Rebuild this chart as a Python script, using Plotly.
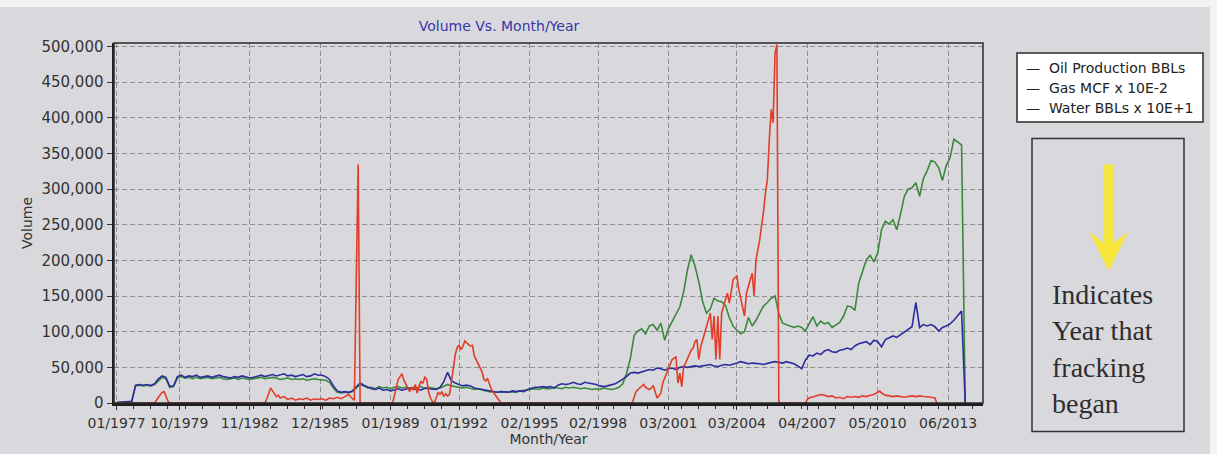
import pandas as pd
import plotly.graph_objects as go

# ---------------- data ----------------
# Water (BBLs x 10E+1) and Gas (MCF x 10E-2): one reading every two months,
# Jan 1977 ... Mar 2014, values in thousands.
water_thousands = [
    0.5, 1, 1.5, 2, 2.5, 25,          # 1977
    26, 25, 26, 24.5, 27, 34,         # 1978
    38, 36, 23, 24, 37, 39,           # 1979
    36, 38, 37, 39, 36, 37,           # 1980
    38, 36, 37, 39, 37, 36,           # 1981
    35, 37, 36, 38, 37, 35,           # 1982
    36, 38, 39, 37, 38, 40,           # 1983
    38, 39, 41, 38, 39, 37,           # 1984
    38, 40, 37, 38, 41, 39,           # 1985
    39, 37, 33, 24, 17, 15,           # 1986
    16, 15, 17, 22, 28, 25,           # 1987
    22, 20, 19, 21, 18, 19,           # 1988
    17, 19, 20, 18, 19, 21,           # 1989
    19, 20, 18, 21, 20, 19,           # 1990
    19, 22, 30, 43, 31, 28,           # 1991
    26, 24, 25, 24, 21, 20,           # 1992
    19, 18, 17, 16, 15, 16,           # 1993
    16, 15, 17, 16, 17, 16,           # 1994
    19, 21, 22, 22, 23, 22,           # 1995
    23, 21, 25, 27, 26, 27,           # 1996
    29, 27, 26, 29, 28, 27,           # 1997
    26, 24, 23, 24, 25, 27,           # 1998
    30, 33, 37, 42, 43, 42,           # 1999
    44, 45, 47, 46, 49, 48,           # 2000
    46, 48, 49, 47, 50, 51,           # 2001
    50, 51, 52, 51, 52, 53,           # 2002
    54, 52, 51, 53, 54, 53,           # 2003
    54, 56, 58, 57, 55, 56,           # 2004
    56, 55, 54, 56, 57, 58,           # 2005
    57, 56, 58, 57, 55, 52,           # 2006
    48, 60, 67, 66, 70, 68,           # 2007
    73, 75, 72, 71, 74, 75,           # 2008
    77, 75, 80, 83, 84, 86,           # 2009
    82, 88, 86, 79, 89, 91,           # 2010
    94, 92, 96, 99, 103, 107,         # 2011
    141, 106, 110, 108, 110, 107,     # 2012
    101, 106, 108, 111, 116, 123,     # 2013
    129, 0,                           # 2014
]

gas_thousands = [
    0.5, 1, 1, 1.5, 2, 24,            # 1977
    25, 24, 25, 24, 26, 31,           # 1978
    36, 34, 22, 23, 35, 37,           # 1979
    35, 36, 34, 36, 34, 35,           # 1980
    36, 34, 35, 36, 34, 33,           # 1981
    34, 35, 33, 35, 34, 33,           # 1982
    34, 35, 36, 34, 35, 36,           # 1983
    35, 33, 34, 35, 33, 34,           # 1984
    33, 34, 32, 33, 34, 33,           # 1985
    33, 32, 29, 21, 15, 14,           # 1986
    15, 14, 16, 21, 26, 24,           # 1987
    21, 22, 20, 23, 21, 22,           # 1988
    20, 22, 23, 21, 22, 20,           # 1989
    22, 21, 23, 20, 22, 21,           # 1990
    20, 21, 23, 26, 24, 23,           # 1991
    22, 21, 22, 20, 19, 20,           # 1992
    18, 17, 16, 15, 15, 16,           # 1993
    16, 15, 16, 15, 17, 18,           # 1994
    18, 19, 20, 19, 21, 20,           # 1995
    20, 22, 21, 20, 22, 21,           # 1996
    22, 21, 20, 21, 20, 19,           # 1997
    20, 19, 21, 20, 19, 20,           # 1998
    22, 27, 41, 62, 95, 101,          # 1999
    104, 97, 108, 110, 102, 112,      # 2000
    88, 104, 115, 125, 135, 156,      # 2001
    187, 208, 192, 170, 142, 126,     # 2002
    132, 147, 143, 142, 137, 120,     # 2003
    108, 102, 97, 100, 120, 108,      # 2004
    116, 126, 136, 141, 147, 150,     # 2005
    125, 112, 110, 107, 106, 108,     # 2006
    106, 101, 112, 121, 108, 115,     # 2007
    111, 113, 106, 110, 113, 122,     # 2008
    136, 135, 130, 168, 185, 201,     # 2009
    207, 198, 210, 243, 255, 251,     # 2010
    257, 243, 265, 290, 300, 302,     # 2011
    309, 290, 315, 326, 340, 338,     # 2012
    330, 312, 333, 344, 370, 366,     # 2013
    362, 0,                           # 2014
]

# Oil production (BBLs): irregular readings, values in thousands
oil_months = [
    "1977-01", "1978-09", "1978-11", "1978-12", "1979-01", "1979-02", "1979-03", "1979-04", "1979-05",
    "1983-07", "1983-08", "1983-09", "1983-10", "1983-11", "1983-12",
    "1984-01", "1984-02", "1984-03", "1984-05", "1984-07", "1984-09", "1984-11",
    "1985-01", "1985-03", "1985-05", "1985-07", "1985-09", "1985-11",
    "1986-01", "1986-03", "1986-05", "1986-07", "1986-09", "1986-11",
    "1987-01", "1987-03", "1987-05", "1987-06", "1987-07", "1987-08", "1987-09",
    "1989-02", "1989-03", "1989-04", "1989-05", "1989-06", "1989-07", "1989-08",
    "1989-09", "1989-10", "1989-11", "1989-12",
    "1990-01", "1990-02", "1990-03", "1990-04", "1990-05", "1990-06", "1990-07",
    "1990-08", "1990-09", "1990-10", "1990-11", "1990-12",
    "1991-01", "1991-02", "1991-03", "1991-04", "1991-05", "1991-06", "1991-07",
    "1991-08", "1991-09", "1991-10", "1991-11", "1991-12",
    "1992-01", "1992-02", "1992-03", "1992-04", "1992-05", "1992-06", "1992-07",
    "1992-08", "1992-09", "1992-10", "1992-11", "1992-12",
    "1993-01", "1993-02", "1993-03", "1993-04", "1993-05", "1993-06", "1993-07",
    "1993-08", "1993-09", "1993-10", "1993-11",
    "1999-08", "1999-09", "1999-10", "1999-11", "1999-12",
    "2000-01", "2000-02", "2000-03", "2000-04", "2000-05", "2000-06", "2000-07",
    "2000-08", "2000-09", "2000-10", "2000-11", "2000-12",
    "2001-01", "2001-02", "2001-03", "2001-04", "2001-05", "2001-06", "2001-07",
    "2001-08", "2001-09", "2001-10", "2001-11", "2001-12",
    "2002-01", "2002-02", "2002-03", "2002-04", "2002-05", "2002-06", "2002-07",
    "2002-08", "2002-09", "2002-10", "2002-11", "2002-12",
    "2003-01", "2003-02", "2003-03", "2003-04", "2003-05", "2003-06", "2003-07",
    "2003-08", "2003-09", "2003-10", "2003-11", "2003-12",
    "2004-01", "2004-02", "2004-03", "2004-04", "2004-05", "2004-06", "2004-07",
    "2004-08", "2004-09", "2004-10", "2004-11", "2004-12",
    "2005-01", "2005-02", "2005-03", "2005-04", "2005-05", "2005-06", "2005-07",
    "2005-08", "2005-09", "2005-10", "2005-11", "2005-12", "2006-01",
    "2007-03", "2007-04", "2007-05", "2007-07", "2007-09", "2007-11",
    "2008-01", "2008-03", "2008-05", "2008-07", "2008-09", "2008-11",
    "2009-01", "2009-03", "2009-05", "2009-07", "2009-09", "2009-11",
    "2010-01", "2010-03", "2010-05", "2010-06", "2010-07", "2010-09", "2010-11",
    "2011-01", "2011-03", "2011-05", "2011-07", "2011-09", "2011-11",
    "2012-01", "2012-03", "2012-05", "2012-07", "2012-09", "2012-11", "2012-12",
]
oil_thousands = [
    0, 0, 8, 12, 15, 16, 10, 3, 0,
    0, 6, 15, 21, 17, 13,
    9, 11, 7, 9, 5, 7, 4,
    6, 5, 7, 4, 6, 5,
    6, 4, 7, 6, 8, 6,
    9, 12, 6, 4, 170, 335, 0,
    0, 10, 24, 33, 37, 41, 32,
    26, 22, 16, 22,
    18, 26, 14, 24, 30, 28, 36,
    33, 15, 7, 2, 0,
    8, 15, 12, 16, 9, 13, 10,
    12, 30, 51, 68, 78,
    81, 75, 79, 87, 84, 82, 80,
    81, 66, 61, 56, 50,
    44, 33, 31, 34, 26, 19, 15,
    11, 6, 3, 0,
    0, 8, 16, 19, 21,
    24, 26, 22, 20, 19, 21, 24,
    16, 7, 10, 14, 28,
    35, 42, 47, 55, 61, 63, 65,
    28, 42, 23, 51, 56,
    62, 70, 74, 77, 86, 89, 61,
    79, 89, 100, 108, 118,
    126, 89, 122, 61, 122, 61, 126,
    136, 145, 154, 140, 160,
    173, 176, 178, 159, 148, 136, 122,
    154, 165, 173, 182, 150,
    201, 215, 229, 250, 268, 295, 313,
    369, 412, 393, 490, 503, 0,
    0, 5, 7, 9, 10, 12,
    11, 9, 10, 7, 8, 6,
    9, 8, 9, 8, 10, 9,
    11, 12, 15, 17, 14, 11, 10,
    9, 10, 9, 8, 9, 10,
    9, 10, 9, 9, 8, 7, 0,
]

series_names = ["Oil Production BBLs", "Gas MCF x 10E-2", "Water BBLs x 10E+1"]
series_colors = ["#e23d28", "#3a883a", "#2c2c9c"]

tick_months = ["1977-01-01", "1979-10-01", "1982-11-01", "1985-12-01", "1989-01-01",
               "1992-01-01", "1995-02-01", "1998-02-01", "2001-03-01", "2004-03-01",
               "2007-04-01", "2010-05-01", "2013-06-01"]

note_lines = ["Indicates", "Year that", "fracking", "began"]

# ---------------- figure ----------------
W, H = 1217, 454
L, R, T, B = 114, 983, 43, 403      # plot area (pixels)


def fx(p):
    return (p - L) / (R - L)


def fy(p):
    return (B - p) / (B - T)


two_monthly = pd.date_range("1977-01-01", periods=len(water_thousands), freq="2MS")

fig = go.Figure()
fig.add_trace(go.Scatter(x=two_monthly, y=[v * 1000 for v in gas_thousands],
                         name=series_names[1], mode="lines",
                         line=dict(color=series_colors[1], width=1.6)))
fig.add_trace(go.Scatter(x=two_monthly, y=[v * 1000 for v in water_thousands],
                         name=series_names[2], mode="lines",
                         line=dict(color=series_colors[2], width=1.6)))
fig.add_trace(go.Scatter(x=pd.to_datetime(oil_months), y=[v * 1000 for v in oil_thousands],
                         name=series_names[0], mode="lines",
                         line=dict(color=series_colors[0], width=1.6)))

bg = "#d9d9dd"
grid = "#8e8e92"
fig.update_layout(
    width=W, height=H,
    margin=dict(l=L, r=W - R, t=T, b=H - B, autoexpand=False),
    paper_bgcolor=bg, plot_bgcolor=bg,
    showlegend=False,
    font=dict(family="DejaVu Sans", color="#333333", size=14),
    title=dict(text="Volume Vs. Month/Year", x=499 / W, xanchor="center",
               y=1 - 26 / H, yanchor="middle",
               font=dict(family="DejaVu Sans", size=14, color="#3636a6")),
    xaxis=dict(
        type="date", range=["1976-11-21", "2014-12-10"],
        tickvals=tick_months, tickformat="%m/%Y",
        ticks="outside", ticklen=4, tickcolor="#333333", tickwidth=1,
        ticklabelstandoff=2,
        tickfont=dict(size=14, color="#333333"),
        showgrid=True, gridcolor=grid, gridwidth=1, griddash="5px,3px",
        showline=True, linecolor="#1e1e1e", linewidth=2.5, zeroline=False,
        minor=dict(ticks="outside", ticklen=3, dtick="M9", tick0="1977-01-01",
                   tickcolor="#333333", showgrid=False),
        title=dict(text="Month/Year", font=dict(size=14, color="#333333"), standoff=3),
        automargin=False,
    ),
    yaxis=dict(
        range=[0, 505000], dtick=50000, tick0=0, tickformat=",d",
        ticks="outside", ticklen=5, tickcolor="#333333",
        tickfont=dict(size=15, color="#333333"),
        showgrid=True, gridcolor=grid, gridwidth=1, griddash="5px,3px",
        showline=True, linecolor="#1e1e1e", linewidth=2.5, zeroline=False,
        title=dict(text="Volume", font=dict(size=14, color="#333333"), standoff=6),
        automargin=False,
    ),
)

shapes = []
# light scan border along the top and right edges of the picture
shapes.append(dict(type="rect", xref="paper", yref="paper",
                   x0=fx(0), x1=fx(W), y0=fy(7), y1=fy(0),
                   fillcolor="#f3f3f3", line=dict(width=0), layer="below"))
shapes.append(dict(type="rect", xref="paper", yref="paper",
                   x0=fx(1210), x1=fx(W), y0=fy(H), y1=fy(0),
                   fillcolor="#f3f3f3", line=dict(width=0), layer="below"))
# thin frame around the plot area (top / right edges)
shapes.append(dict(type="rect", xref="paper", yref="paper", x0=0, x1=1, y0=0, y1=1,
                   line=dict(color="#2a2a2a", width=1.5), layer="above"))
# legend box
shapes.append(dict(type="rect", xref="paper", yref="paper",
                   x0=fx(1017), x1=fx(1203), y0=fy(122), y1=fy(53),
                   fillcolor="white", line=dict(color="#2a2a2a", width=1.5), layer="above"))
# note box
shapes.append(dict(type="rect", xref="paper", yref="paper",
                   x0=fx(1032), x1=fx(1184), y0=fy(431.5), y1=fy(138.5),
                   line=dict(color="#333333", width=1.5), layer="above"))
# yellow arrow
arrow_pts = [(1104.3, 165), (1113.1, 165), (1113.1, 244), (1127, 233), (1108.7, 270),
             (1090.4, 233), (1104.3, 244)]
path = "M " + " L ".join(f"{fx(a):.5f},{fy(b):.5f}" for a, b in arrow_pts) + " Z"
shapes.append(dict(type="path", xref="paper", yref="paper", path=path,
                   fillcolor="#f6e53a", line=dict(color="#f6e53a", width=1), layer="above"))
fig.update_layout(shapes=shapes)

annotations = []
for name, ypix in zip(series_names, [68, 88, 108]):
    annotations.append(dict(text="—\u00a0\u00a0" + name, xref="paper", yref="paper",
                            x=fx(1024), y=fy(ypix), xanchor="left", yanchor="middle",
                            showarrow=False, font=dict(family="DejaVu Sans", size=14, color="#222222")))
annotations.append(dict(text="<br>".join(note_lines), xref="paper", yref="paper",
                        x=fx(1050), y=fy(349), xanchor="left", yanchor="middle", align="left",
                        showarrow=False,
                        font=dict(family="Liberation Serif", size=28, color="#2e2e2e")))
fig.update_layout(annotations=annotations)

# the page's default 8px body margin would shift the whole figure; remove it
fig.write_html("out.html",
               config={"displayModeBar": False, "staticPlot": True},
               post_script="document.body.style.margin='0px';document.body.style.overflow='hidden';")
